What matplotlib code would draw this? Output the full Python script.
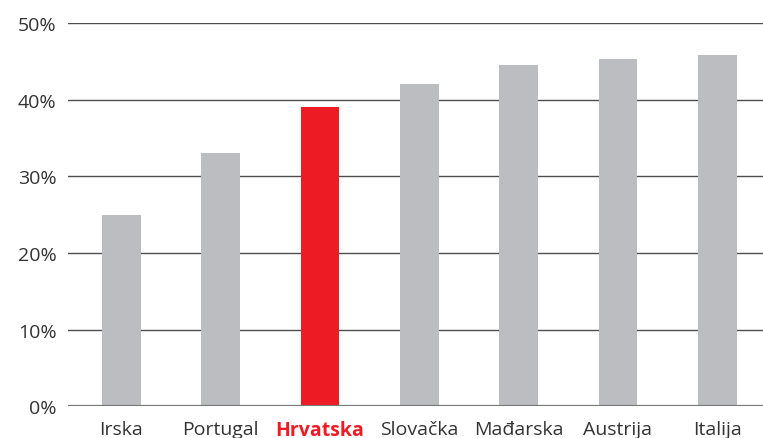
import matplotlib.pyplot as plt
import numpy as np

countries = ['Irska', 'Portugal', 'Hrvatska', 'Slovačka', 'Mađarska', 'Austrija', 'Italija']
values = [25.0, 33.0, 39.0, 42.0, 44.5, 45.3, 45.8]
highlight = 'Hrvatska'

grey = '#BCBDC0'
red = '#ED1C24'
colors = [red if c == highlight else grey for c in countries]

plt.rcParams['font.family'] = ['Open Sans', 'DejaVu Sans']

fig = plt.figure(figsize=(7.63, 4.39), dpi=100)
ax = fig.add_axes([0.0887, 0.0722, 0.9113, 0.8731])

x = np.arange(len(countries))
ax.set_axisbelow(True)
ax.yaxis.grid(True, color='#4d4d4d', linewidth=1.0)
ax.bar(x, values, width=0.39, color=colors, zorder=3)

ax.set_ylim(0, 50)
ax.set_xlim(-0.54, 6.46)
ax.set_yticks(np.arange(0, 51, 10))
ax.set_yticklabels([f'{v}%' for v in range(0, 51, 10)])
ax.set_xticks(x)
ax.set_xticklabels(countries)

for s in ax.spines.values():
    s.set_visible(False)
ax.axhline(0, color='#777777', linewidth=1.6, zorder=4)

ax.tick_params(axis='both', length=0, labelsize=14, colors='#333333')
ax.tick_params(axis='y', pad=8)
ax.tick_params(axis='x', pad=10)

for lbl in ax.get_xticklabels():
    if lbl.get_text() == highlight:
        lbl.set_color(red)
        lbl.set_fontweight('bold')

fig.savefig('out.png', dpi=100)
